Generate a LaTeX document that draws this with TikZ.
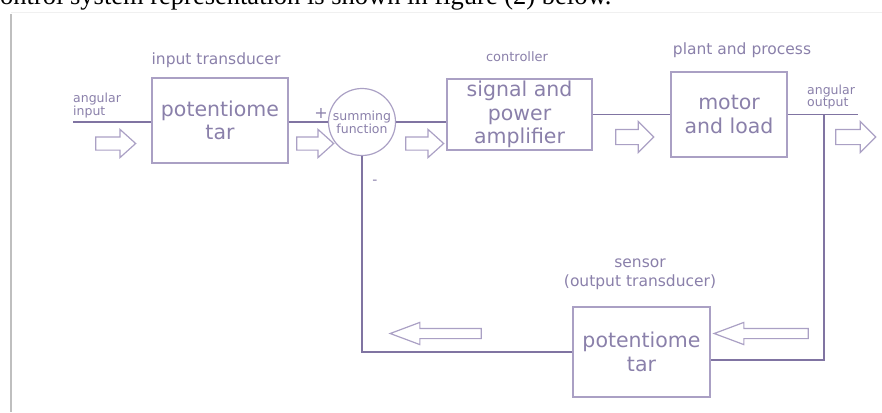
\documentclass[tikz,border=0pt]{standalone}
\usepackage{fontspec}
\setmainfont{DejaVu Sans}
\newfontfamily\capfont{Liberation Serif}
\usepackage{tikz}
\usetikzlibrary{shapes.arrows, positioning}
\definecolor{linecol}{RGB}{128,116,162}
\definecolor{boxcol}{RGB}{170,160,196}
\definecolor{txtcol}{RGB}{138,128,170}

\begin{document}
\begin{tikzpicture}[
  x=1pt, y=-1pt,
  blocknode/.style={draw=boxcol, line width=1.2pt, align=center, text=txtcol, font=\fontsize{20.5}{23.5}\selectfont, inner sep=0pt},
  sumnode/.style={draw=boxcol, line width=1.2pt, circle, minimum size=67pt, inner sep=0pt, align=center, text=txtcol, font=\fontsize{12.5}{12}\selectfont},
  tagnode/.style={text=txtcol, align=center, inner sep=0pt, font=\fontsize{15.5}{19}\selectfont},
  smalltag/.style={text=txtcol, align=left, inner sep=0pt, font=\fontsize{12.5}{12}\selectfont},
  conn/.style={draw=linecol, line width=1.8pt},
  harrow/.style={single arrow, draw=boxcol, line width=1.2pt, inner xsep=0pt, inner ysep=6pt, single arrow head extend=7.5pt, single arrow tip angle=84, minimum height=40pt},
  farrow/.style={harrow, shape border rotate=180, inner ysep=4.5pt, single arrow head extend=6pt, single arrow tip angle=41}
]
\useasboundingbox (0,0) rectangle (882,412);
\clip (0,0) rectangle (882,412);
% page frame and cut caption
\draw[gray!50, line width=2.5pt] (11,14) -- (11,412);
\draw[gray!12, line width=1pt] (11,13) -- (882,13);
\node[anchor=base west, inner sep=0pt, font=\capfont\fontsize{26.5}{30}\selectfont] (caption) at (0,5) {ontrol system representation is shown in figure (2) below.};

% blocks
\node[blocknode, minimum width=136pt, minimum height=85pt] (inpot) at (220,120.5) {potentiome\\tar};
\node[sumnode] (sum) at (362,122) {summing\\function};
\node[blocknode, minimum width=145pt, minimum height=71pt] (ctrl) at (519.5,114.5) {signal and\\power\\amplifier};
\node[blocknode, minimum width=116pt, minimum height=85pt] (plant) at (729,114.5) {motor\\and load};
\node[blocknode, minimum width=137pt, minimum height=90pt] (sens) at (641.5,352) {potentiome\\tar};

% labels
\node[smalltag, anchor=west] (inlbl) at (73,106) {angular\\input};
\node[tagnode] (intag) at (216,60) {input transducer};
\node[text=txtcol, inner sep=0pt, font=\fontsize{16}{16}\selectfont] (plus) at (321,113) {+};
\node[text=txtcol, inner sep=0pt, font=\fontsize{14}{14}\selectfont] (minus) at (375,182) {-};
\node[smalltag, font=\fontsize{13}{13}\selectfont] (ctrltag) at (517,57) {controller};
\node[tagnode] (planttag) at (742,50) {plant and process};
\node[smalltag, anchor=west] (outlbl) at (807,97) {angular\\output};
\node[tagnode] (senstag) at (640,274.5) {sensor\\(output transducer)};

% hollow flow arrows
\node[harrow] (a1) at (112,143.5) {};
\node[harrow, minimum height=37pt] (a2) at (311.5,143.5) {};
\node[harrow, minimum height=38pt] (a3) at (421,143.5) {};
\node[harrow, minimum height=38pt, inner ysep=7pt, single arrow head extend=8pt, single arrow tip angle=90] (a4) at (631,137) {};
\node[harrow, inner ysep=7pt, single arrow head extend=8pt, single arrow tip angle=90] (a5) at (852,137) {};
\node[farrow, minimum height=91pt] (a6) at (442.5,333.5) {};
\node[farrow, minimum height=94pt] (a7) at (768,333.5) {};

% signal lines
\coordinate (inend) at (73,122);
\coordinate (outend) at (858,114.5);
\coordinate (tap) at (824,114.5);
\draw[conn] (inend) -- (inend -| inpot.west);
\draw[conn] (sum.west -| inpot.east) -- (sum.west);
\draw[conn] (sum.east) -- (sum.east -| ctrl.west);
\draw[conn] (ctrl.east) -- (plant.west);
\draw[conn] (plant.east) -- (outend);
\draw[conn] (tap) |- ([yshift=-8pt]sens.east);
\draw[conn] (sens.west) -| (sum.south);
\end{tikzpicture}
\end{document}
